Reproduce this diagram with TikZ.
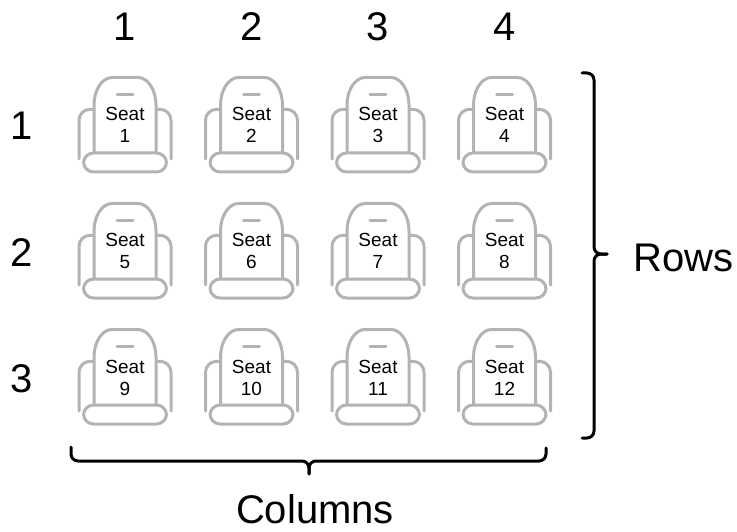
\documentclass[tikz,border=0pt]{standalone}
\usepackage{fontspec}
\setmainfont{Liberation Sans}
\definecolor{seatgray}{RGB}{179,179,179}
\tikzset{
  seatline/.style={draw=seatgray, line width=3pt, line cap=round, line join=round},
  seattxt/.style={font=\fontsize{19}{22}\selectfont, text=black, inner sep=0pt, anchor=base},
  biglabel/.style={font=\fontsize{40}{48}\selectfont, text=black, inner sep=0pt, anchor=base},
  bracestyle/.style={draw=black, line width=3pt, rounded corners=7pt, line cap=round}
}
\begin{document}
\begin{tikzpicture}[x=1pt,y=-1pt]
\useasboundingbox (0,0) rectangle (737,532);
% column labels
\foreach \c in {1,...,4}{
  \pgfmathsetmacro\cx{125+126.5*(\c-1)}
  \node[biglabel] (col\c) at (\cx,41) {\c};
}
% row labels
\foreach \r in {1,2,3}{
  \pgfmathsetmacro\ry{140+126*(\r-1)}
  \node[biglabel] (row\r) at (22,\ry) {\r};
}
% seats
\foreach \r in {0,1,2}{
  \foreach \c in {0,...,3}{
    \pgfmathtruncatemacro\n{\r*4+\c+1}
    \pgfmathsetmacro\sx{125+126.5*\c}
    \pgfmathsetmacro\sy{114+126*\r}
    \begin{scope}[shift={(\sx,\sy)}]
      % arms
      \draw[seatline, rounded corners=11pt] (-31,-4.7) -- (-46,-4.7) -- (-46,45);
      \draw[seatline, rounded corners=11pt] (31,-4.7) -- (46,-4.7) -- (46,45);
      % back
      \draw[seatline, fill=white] (-31,40) -- (-31,-9)
        .. controls (-31,-24) and (-22.9,-36.5) .. (-13,-36.5)
        -- (13,-36.5)
        .. controls (22.9,-36.5) and (31,-24) .. (31,-9) -- (31,40);
      % dash
      \draw[seatline] (-8,-19.7) -- (8,-19.7);
      % cushion
      \draw[seatline, fill=white, rounded corners=10pt] (-41.5,39) rectangle (41.5,58);
      % text
      \node[seattxt] (seat\n) at (0,7) {Seat};
      \node[seattxt] (num\n) at (0,29) {\n};
    \end{scope}
  }
}
% right brace (rows)
\draw[bracestyle] (582,73) -- (594,73) -- (594,254) -- (607,254);
\draw[bracestyle] (607,254) -- (594,254) -- (594,438) -- (582,438);
\node[biglabel, anchor=base west] (rows) at (633,272) {Rows};
% bottom brace (columns)
\draw[bracestyle] (71,447) -- (71,461) -- (309,461) -- (309,474);
\draw[bracestyle] (309,474) -- (309,461) -- (546,461) -- (546,448);
\node[biglabel] (columns) at (315,523) {Columns};
\end{tikzpicture}
\end{document}
